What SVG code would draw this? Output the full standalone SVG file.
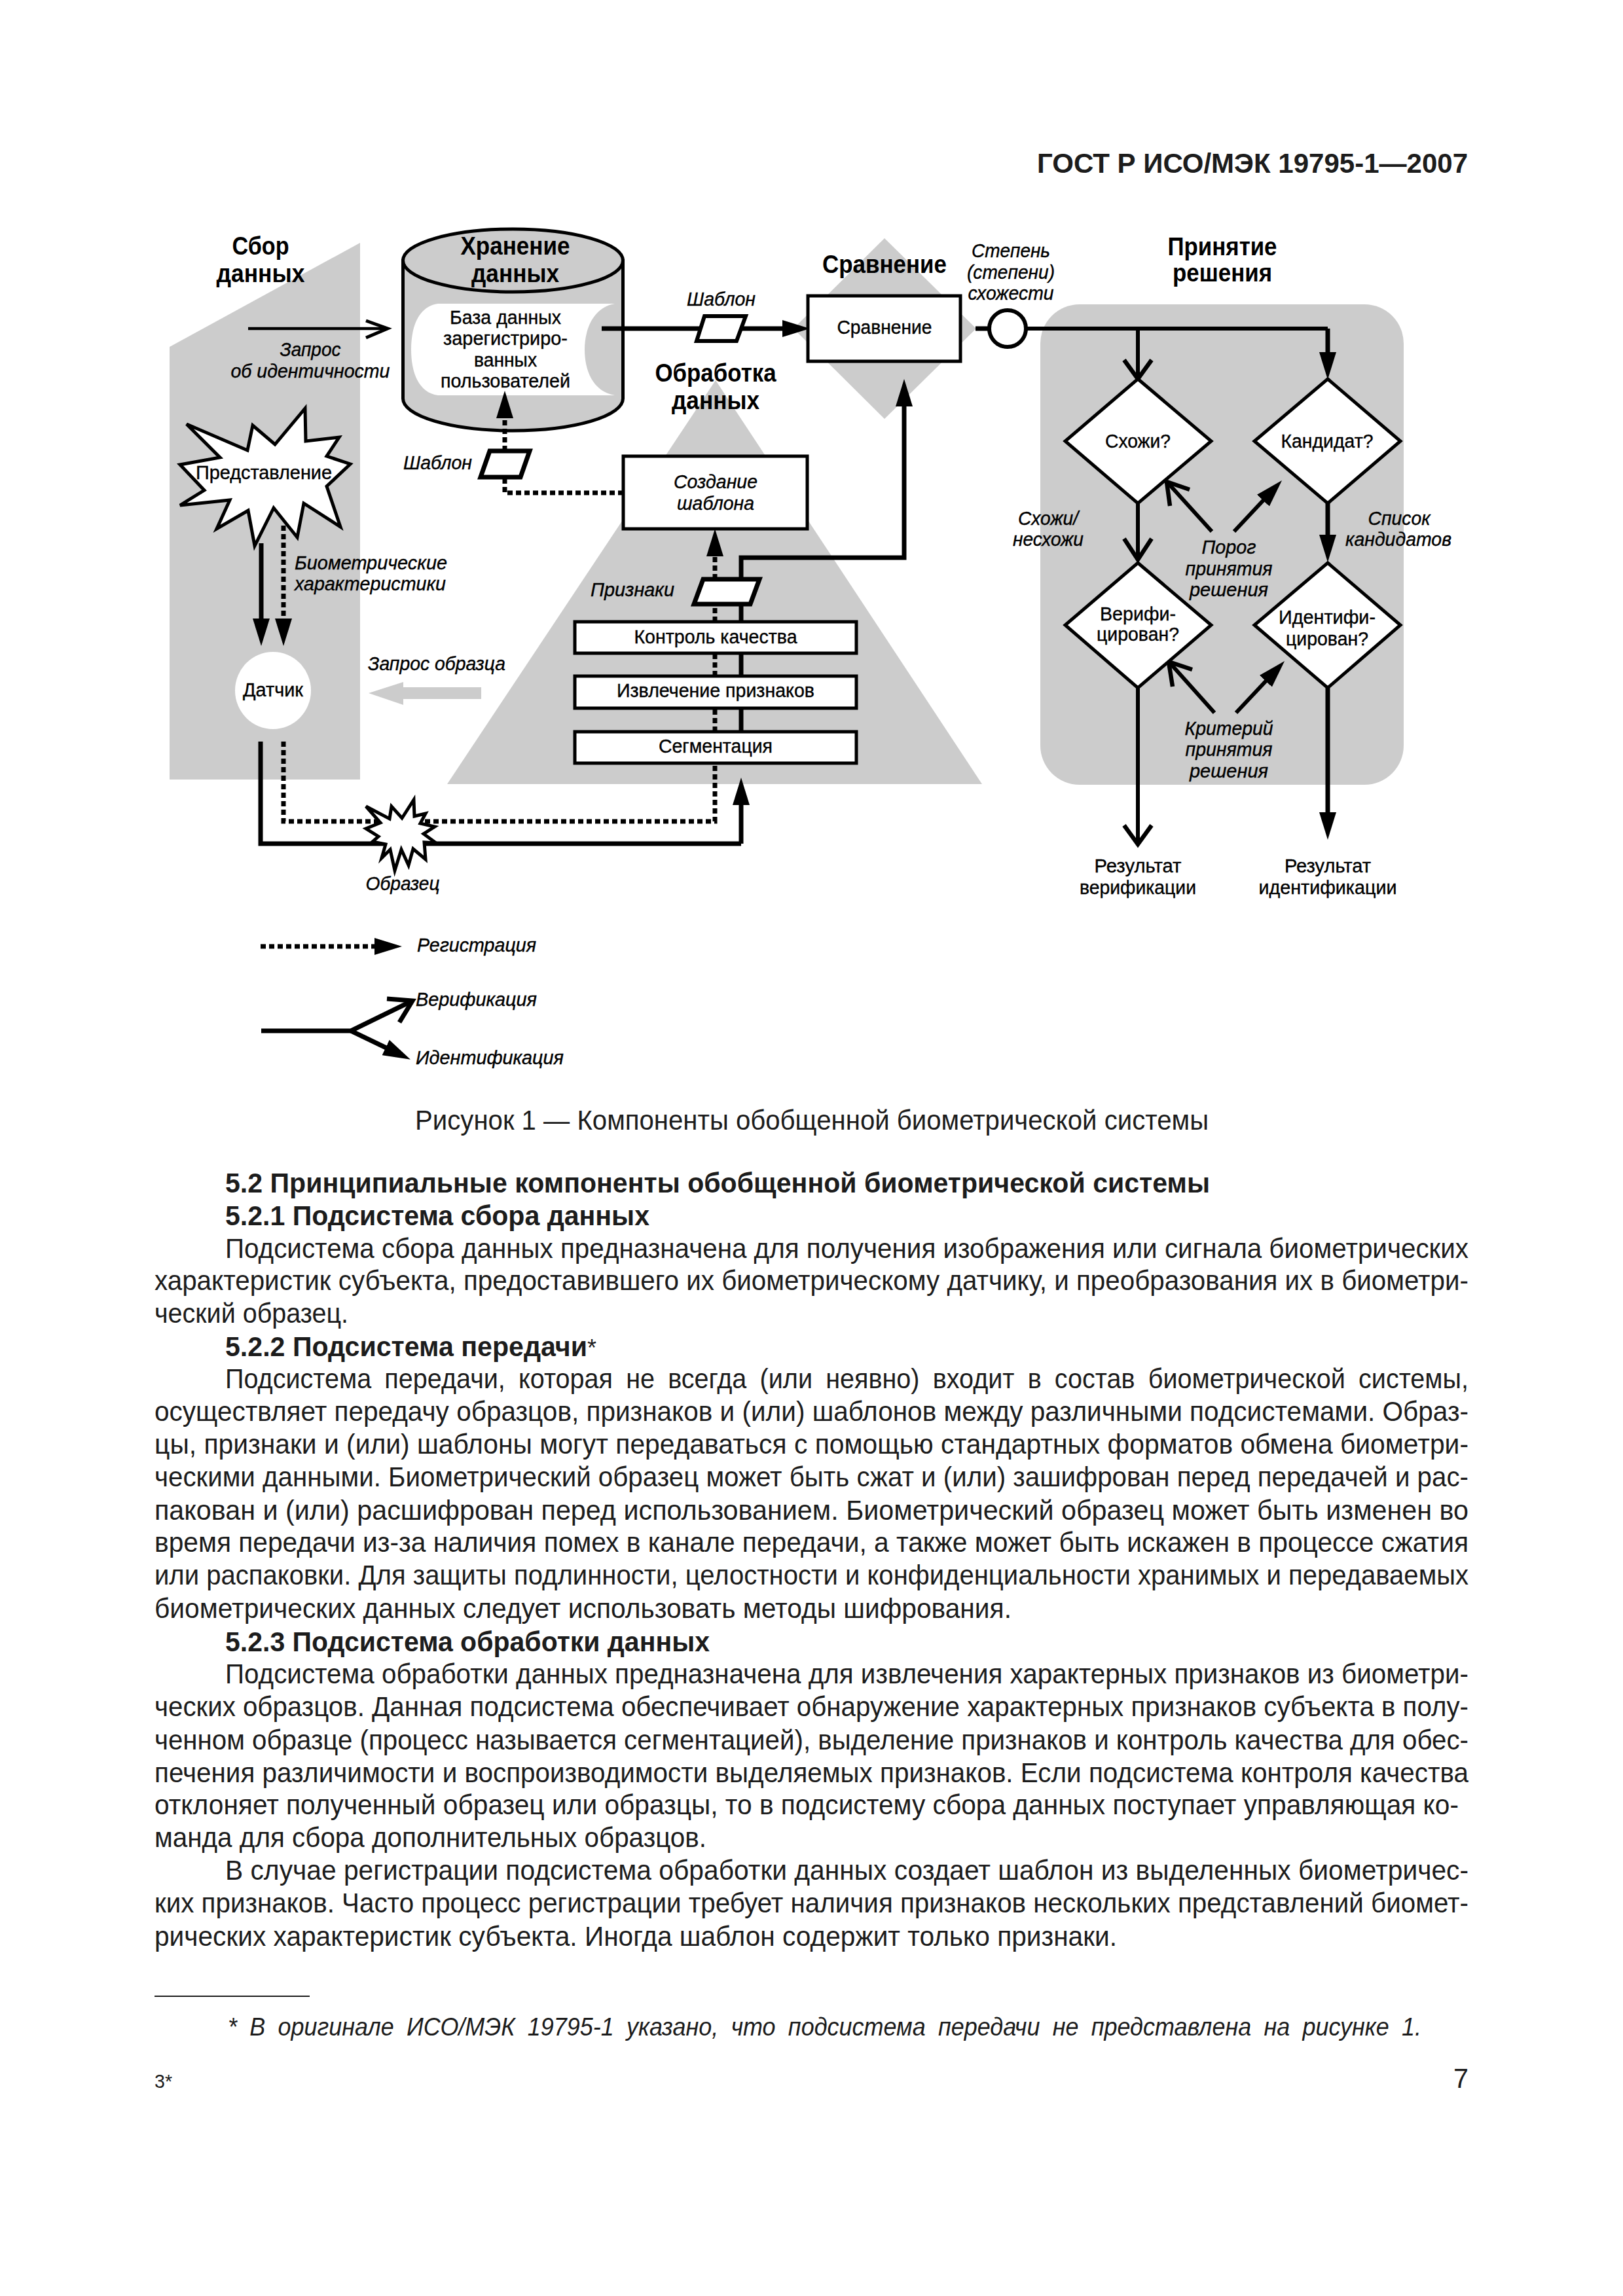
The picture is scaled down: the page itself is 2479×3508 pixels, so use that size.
<svg xmlns="http://www.w3.org/2000/svg" width="2479" height="3508" viewBox="0 0 2479 3508">
<style>
text{font-family:"Liberation Sans",Arial,sans-serif;fill:#000}
.c{text-anchor:middle}
.r{font-size:30px;stroke:#000;stroke-width:.4}
.i{font-size:30px;font-style:italic;stroke:#000;stroke-width:.4}
.h{font-size:38px;font-weight:bold}
.body text{font-size:43px;fill:#1c1c1c}
.body .b{font-weight:bold}
.g{fill:#ccc;stroke:none}
.w{fill:#fff;stroke:#000;stroke-width:5}
.s{fill:none;stroke:#000;stroke-width:7}
.t{fill:none;stroke:#000;stroke-width:6}
.d{fill:none;stroke:#000;stroke-width:7;stroke-dasharray:8 5}
.o{fill:none;stroke:#000;stroke-width:6.5}
.a{marker-end:url(#tri)}
</style>
<defs>
<marker id="tri" markerUnits="userSpaceOnUse" markerWidth="42" markerHeight="26" viewBox="0 0 42 26" refX="1" refY="13" orient="auto"><path d="M0 0L42 13L0 26Z" fill="#000"/></marker>
</defs>
<rect width="2479" height="3508" fill="#fff"/>

<g id="backgrounds">
<polygon class="g" points="259,530 550,371 550,1191 259,1191"/>
<polygon class="g" points="1093,581 1500,1198 683,1198"/>
<polygon class="g" points="1351,364 1491,502 1351,640 1212,502"/>
<rect class="g" x="1589" y="465" width="555" height="734" rx="60"/>
</g>

<g id="storage">
<path d="M615.5 398V609A168 49 0 0 0 951.5 609V398Z" fill="#ccc" stroke="#000" stroke-width="5"/>
<ellipse cx="783.5" cy="398" rx="168" ry="48" fill="#ccc" stroke="#000" stroke-width="5"/>
<path d="M669 464H939C905 470 893 505 893 534C893 565 905 598 939 604H669C640 600 628 570 628 534C628 498 640 468 669 464Z" fill="#fff"/>
</g>

<g id="connectors">
<path class="t" style="stroke-width:4.5" d="M379 502H590"/>
<path class="t" style="stroke-width:5" d="M559 490L592 502L559 516"/>
<path class="s a" d="M919 502H1196"/>
<path class="d a" d="M771 689V638"/>
<path class="d" d="M952 753H771V729"/>
<path class="s a" d="M399 830V946"/>
<path class="d a" d="M433 803V946"/>
<path class="s" d="M398 1133V1289H1132"/>
<path class="s a" d="M1132 1289V1229"/>
<path class="d" d="M433 1133V1255H1092V1166"/>
<path class="d" d="M1092 1118V1082M1092 1033V998M1092 950V923"/>
<path class="s" d="M1132 1118V1082M1132 1033V998M1132 950V923"/>
<path class="d a" d="M1092 885V849"/>
<path class="s a" d="M1132 885V852H1381V620"/>
<path class="s" d="M1490 502H1510"/>
<path class="t" d="M1569 502H2028"/>
<path class="s a" d="M2028 502V539"/>
<path class="t" d="M1738 502V577"/>
<path class="o" d="M1717 550L1738 579L1759 550"/>
<path class="t" d="M1738 769V853"/>
<path class="o" d="M1717 823L1738 855L1759 823"/>
<path class="s a" d="M2028 769V818"/>
<path class="t" d="M1738 1051V1288"/>
<path class="o" d="M1717 1261L1738 1290L1759 1261"/>
<path class="s a" d="M2028 1051V1242"/>
<path class="t" d="M1851 812L1784 738"/>
<path class="o" d="M1787 773L1782 736L1817 748"/>
<path class="t a" d="M1885 812L1930 764"/>
<path class="t" d="M1855 1089L1787 1013"/>
<path class="o" d="M1791 1049L1785 1011L1821 1023"/>
<path class="t a" d="M1888 1089L1934 1040"/>
</g>

<g id="template-db"><text class="r c" x="772" y="495" textLength="170" lengthAdjust="spacingAndGlyphs">База данных</text><text class="r c" x="772" y="527" textLength="190" lengthAdjust="spacingAndGlyphs">зарегистриро-</text><text class="r c" x="772" y="560" textLength="96" lengthAdjust="spacingAndGlyphs">ванных</text><text class="r c" x="772" y="592" textLength="198" lengthAdjust="spacingAndGlyphs">пользователей</text></g>

<g id="template1"><polygon points="1076,483 1139,483 1125,521 1064,521" class="w" style="stroke-width:6"/></g>
<g id="template2"><polygon points="748,689 809,689 795,729 734,729" class="w" style="stroke-width:7"/></g>
<g id="features"><polygon points="1074,885 1160,885 1146,923 1060,923" class="w" style="stroke-width:7"/></g>

<g id="presentation">
<polygon class="w" points="285,648 378,688 386,650 420,679 466,624 467,674 518,668 499,697 535,709 499,743 520,805 464,769 454,821 418,776 389,834 379,780 331,808 351,764 275,772 312,749 275,710 336,699"/>
<text class="r c" x="403" y="732" textLength="208" lengthAdjust="spacingAndGlyphs">Представление</text>
</g>
<g id="sensor"><ellipse cx="417" cy="1055" rx="58" ry="59" fill="#fff"/><text class="r c" x="417" y="1064" textLength="92" lengthAdjust="spacingAndGlyphs">Датчик</text></g>
<g id="sample-request"><polygon points="563,1059 616,1042 616,1050 735,1050 735,1068 616,1068 616,1077" fill="#ccc"/></g>
<g id="sample"><polygon class="w" points="559,1232 595,1251 598,1232 614,1250 632,1222 633,1247 650,1243 642,1258 664,1263 647,1274 666,1288 648,1287 650,1313 631,1297 624,1322 613,1298 603,1330 596,1298 583,1311 589,1290 569,1286 578,1278 559,1266 581,1257"/></g>

<g id="template-create"><rect class="w" x="952" y="697" width="281" height="111"/><text class="i c" x="1093" y="746" textLength="128" lengthAdjust="spacingAndGlyphs">Создание</text><text class="i c" x="1093" y="779" textLength="118" lengthAdjust="spacingAndGlyphs">шаблона</text></g>
<g id="quality"><rect class="w" x="878" y="950" width="430" height="48"/><text class="r c" x="1093" y="983" textLength="249" lengthAdjust="spacingAndGlyphs">Контроль качества</text></g>
<g id="extract"><rect class="w" x="878" y="1033" width="430" height="49"/><text class="r c" x="1093" y="1065" textLength="302" lengthAdjust="spacingAndGlyphs">Извлечение признаков</text></g>
<g id="segment"><rect class="w" x="878" y="1118" width="430" height="48"/><text class="r c" x="1093" y="1150" textLength="174" lengthAdjust="spacingAndGlyphs">Сегментация</text></g>
<g id="compare"><rect class="w" x="1234" y="452" width="233" height="100"/><text class="r c" x="1351" y="510" textLength="145" lengthAdjust="spacingAndGlyphs">Сравнение</text></g>
<g id="score"><circle cx="1539" cy="502" r="28" fill="#fff" stroke="#000" stroke-width="6"/></g>

<g id="similar"><polygon class="w" points="1738,579 1850,674 1738,769 1627,674"/><text class="r c" x="1738" y="684" textLength="100" lengthAdjust="spacingAndGlyphs">Схожи?</text></g>
<g id="candidate"><polygon class="w" points="2028,579 2139,674 2028,769 1916,674"/><text class="r c" x="2027" y="684" textLength="141" lengthAdjust="spacingAndGlyphs">Кандидат?</text></g>
<g id="verified"><polygon class="w" points="1738,860 1850,955 1738,1051 1627,955"/><text class="r c" x="1738" y="948" textLength="116" lengthAdjust="spacingAndGlyphs">Верифи-</text><text class="r c" x="1738" y="979" textLength="126" lengthAdjust="spacingAndGlyphs">цирован?</text></g>
<g id="identified"><polygon class="w" points="2028,860 2139,955 2028,1051 1916,955"/><text class="r c" x="2027" y="953" textLength="148" lengthAdjust="spacingAndGlyphs">Идентифи-</text><text class="r c" x="2027" y="986" textLength="126" lengthAdjust="spacingAndGlyphs">цирован?</text></g>

<g id="labels">
<text class="h c" x="398" y="389" textLength="87" lengthAdjust="spacingAndGlyphs">Сбор</text>
<text class="h c" x="398" y="431" textLength="135" lengthAdjust="spacingAndGlyphs">данных</text>
<text class="h c" x="787" y="389" textLength="167" lengthAdjust="spacingAndGlyphs">Хранение</text>
<text class="h c" x="787" y="431" textLength="134" lengthAdjust="spacingAndGlyphs">данных</text>
<text class="h c" x="1351" y="417" textLength="190" lengthAdjust="spacingAndGlyphs">Сравнение</text>
<text class="h c" x="1093" y="583" textLength="185" lengthAdjust="spacingAndGlyphs">Обработка</text>
<text class="h c" x="1093" y="625" textLength="134" lengthAdjust="spacingAndGlyphs">данных</text>
<text class="h c" x="1867" y="390" textLength="167" lengthAdjust="spacingAndGlyphs">Принятие</text>
<text class="h c" x="1867" y="430" textLength="152" lengthAdjust="spacingAndGlyphs">решения</text>
<text class="i c" x="474" y="544" textLength="93" lengthAdjust="spacingAndGlyphs">Запрос</text>
<text class="i c" x="474" y="577" textLength="243" lengthAdjust="spacingAndGlyphs">об идентичности</text>
<text class="i" x="616" y="717" textLength="105" lengthAdjust="spacingAndGlyphs">Шаблон</text>
<text class="i" x="1049" y="467" textLength="105" lengthAdjust="spacingAndGlyphs">Шаблон</text>
<text class="i" x="450" y="870" textLength="233" lengthAdjust="spacingAndGlyphs">Биометрические</text>
<text class="i" x="450" y="902" textLength="231" lengthAdjust="spacingAndGlyphs">характеристики</text>
<text class="i" x="902" y="911" textLength="128" lengthAdjust="spacingAndGlyphs">Признаки</text>
<text class="i" x="562" y="1024" textLength="210" lengthAdjust="spacingAndGlyphs">Запрос образца</text>
<text class="i c" x="615" y="1360" textLength="113" lengthAdjust="spacingAndGlyphs">Образец</text>
<text class="i c" x="1544" y="393" textLength="120" lengthAdjust="spacingAndGlyphs">Степень</text>
<text class="i c" x="1544" y="426" textLength="134" lengthAdjust="spacingAndGlyphs">(степени)</text>
<text class="i c" x="1544" y="458" textLength="131" lengthAdjust="spacingAndGlyphs">схожести</text>
<text class="i c" x="1601" y="802" textLength="92" lengthAdjust="spacingAndGlyphs">Схожи/</text>
<text class="i c" x="1601" y="834" textLength="108" lengthAdjust="spacingAndGlyphs">несхожи</text>
<text class="i c" x="2137" y="802" textLength="95" lengthAdjust="spacingAndGlyphs">Список</text>
<text class="i c" x="2136" y="834" textLength="162" lengthAdjust="spacingAndGlyphs">кандидатов</text>
<text class="i c" x="1877" y="846" textLength="83" lengthAdjust="spacingAndGlyphs">Порог</text>
<text class="i c" x="1877" y="879" textLength="133" lengthAdjust="spacingAndGlyphs">принятия</text>
<text class="i c" x="1877" y="911" textLength="120" lengthAdjust="spacingAndGlyphs">решения</text>
<text class="i c" x="1877" y="1123" textLength="135" lengthAdjust="spacingAndGlyphs">Критерий</text>
<text class="i c" x="1877" y="1155" textLength="133" lengthAdjust="spacingAndGlyphs">принятия</text>
<text class="i c" x="1877" y="1188" textLength="120" lengthAdjust="spacingAndGlyphs">решения</text>
<text class="r c" x="1738" y="1333" textLength="133" lengthAdjust="spacingAndGlyphs">Результат</text>
<text class="r c" x="1738" y="1366" textLength="178" lengthAdjust="spacingAndGlyphs">верификации</text>
<text class="r c" x="2028" y="1333" textLength="132" lengthAdjust="spacingAndGlyphs">Результат</text>
<text class="r c" x="2028" y="1366" textLength="211" lengthAdjust="spacingAndGlyphs">идентификации</text>
</g>

<g id="legend">
<path class="d a" d="M398 1446H573"/>
<path class="s" d="M399 1575H536L628 1530"/>
<path class="s" d="M591 1526L630 1529L610 1562"/>
<path class="s a" d="M536 1575L590 1601"/>
<text class="i" x="637" y="1454" textLength="182" lengthAdjust="spacingAndGlyphs">Регистрация</text>
<text class="i" x="635" y="1537" textLength="185" lengthAdjust="spacingAndGlyphs">Верификация</text>
<text class="i" x="635" y="1626" textLength="226" lengthAdjust="spacingAndGlyphs">Идентификация</text>
</g>

<g class="body" id="page-text">
<text class="b" x="1584" y="264" textLength="658" lengthAdjust="spacingAndGlyphs">ГОСТ Р ИСО/МЭК 19795-1—2007</text>
<text x="634" y="1726" textLength="1212" lengthAdjust="spacingAndGlyphs">Рисунок 1 — Компоненты обобщенной биометрической системы</text>
<text class="b" x="344" y="1822" textLength="1504" lengthAdjust="spacingAndGlyphs">5.2 Принципиальные компоненты обобщенной биометрической системы</text>
<text class="b" x="344" y="1872" textLength="648" lengthAdjust="spacingAndGlyphs">5.2.1 Подсистема сбора данных</text>
<text x="344" y="1922" textLength="1899" lengthAdjust="spacingAndGlyphs">Подсистема сбора данных предназначена для получения изображения или сигнала биометрических</text>
<text x="236" y="1971" textLength="2007" lengthAdjust="spacingAndGlyphs">характеристик субъекта, предоставившего их биометрическому датчику, и преобразования их в биометри-</text>
<text x="236" y="2021" textLength="296" lengthAdjust="spacingAndGlyphs">ческий образец.</text>
<text class="b" x="344" y="2072" textLength="553" lengthAdjust="spacingAndGlyphs">5.2.2 Подсистема передачи</text>
<text x="897" y="2072" style="font-size:36px">*</text>
<text x="344" y="2121" textLength="1899" lengthAdjust="spacingAndGlyphs" style="word-spacing:10px">Подсистема передачи, которая не всегда (или неявно) входит в состав биометрической системы,</text>
<text x="236" y="2171" textLength="2007" lengthAdjust="spacingAndGlyphs">осуществляет передачу образцов, признаков и (или) шаблонов между различными подсистемами. Образ-</text>
<text x="236" y="2221" textLength="2007" lengthAdjust="spacingAndGlyphs">цы, признаки и (или) шаблоны могут передаваться с помощью стандартных форматов обмена биометри-</text>
<text x="236" y="2271" textLength="2007" lengthAdjust="spacingAndGlyphs">ческими данными. Биометрический образец может быть сжат и (или) зашифрован перед передачей и рас-</text>
<text x="236" y="2322" textLength="2007" lengthAdjust="spacingAndGlyphs">пакован и (или) расшифрован перед использованием. Биометрический образец может быть изменен во</text>
<text x="236" y="2371" textLength="2007" lengthAdjust="spacingAndGlyphs">время передачи из-за наличия помех в канале передачи, а также может быть искажен в процессе сжатия</text>
<text x="236" y="2421" textLength="2007" lengthAdjust="spacingAndGlyphs">или распаковки. Для защиты подлинности, целостности и конфиденциальности хранимых и передаваемых</text>
<text x="236" y="2472" textLength="1309" lengthAdjust="spacingAndGlyphs">биометрических данных следует использовать методы шифрования.</text>
<text class="b" x="344" y="2523" textLength="740" lengthAdjust="spacingAndGlyphs">5.2.3 Подсистема обработки данных</text>
<text x="344" y="2572" textLength="1899" lengthAdjust="spacingAndGlyphs">Подсистема обработки данных предназначена для извлечения характерных признаков из биометри-</text>
<text x="236" y="2622" textLength="2007" lengthAdjust="spacingAndGlyphs">ческих образцов. Данная подсистема обеспечивает обнаружение характерных признаков субъекта в полу-</text>
<text x="236" y="2673" textLength="2007" lengthAdjust="spacingAndGlyphs">ченном образце (процесс называется сегментацией), выделение признаков и контроль качества для обес-</text>
<text x="236" y="2723" textLength="2007" lengthAdjust="spacingAndGlyphs">печения различимости и воспроизводимости выделяемых признаков. Если подсистема контроля качества</text>
<text x="236" y="2772" textLength="1992" lengthAdjust="spacingAndGlyphs">отклоняет полученный образец или образцы, то в подсистему сбора данных поступает управляющая ко-</text>
<text x="236" y="2822" textLength="843" lengthAdjust="spacingAndGlyphs">манда для сбора дополнительных образцов.</text>
<text x="344" y="2872" textLength="1899" lengthAdjust="spacingAndGlyphs">В случае регистрации подсистема обработки данных создает шаблон из выделенных биометричес-</text>
<text x="236" y="2922" textLength="2007" lengthAdjust="spacingAndGlyphs">ких признаков. Часто процесс регистрации требует наличия признаков нескольких представлений биомет-</text>
<text x="236" y="2973" textLength="1470" lengthAdjust="spacingAndGlyphs">рических характеристик субъекта. Иногда шаблон содержит только признаки.</text>
<rect x="236" y="3049" width="237" height="2" fill="#1c1c1c"/>
<text x="348" y="3110" textLength="1823" lengthAdjust="spacingAndGlyphs" style="font-size:39px;font-style:italic;word-spacing:10px">* В оригинале ИСО/МЭК 19795-1 указано, что подсистема передачи не представлена на рисунке 1.</text>
<text x="236" y="3190" textLength="27" lengthAdjust="spacingAndGlyphs" style="font-size:30px">3*</text>
<text x="2220" y="3190" textLength="23" lengthAdjust="spacingAndGlyphs">7</text>
</g>
</svg>
